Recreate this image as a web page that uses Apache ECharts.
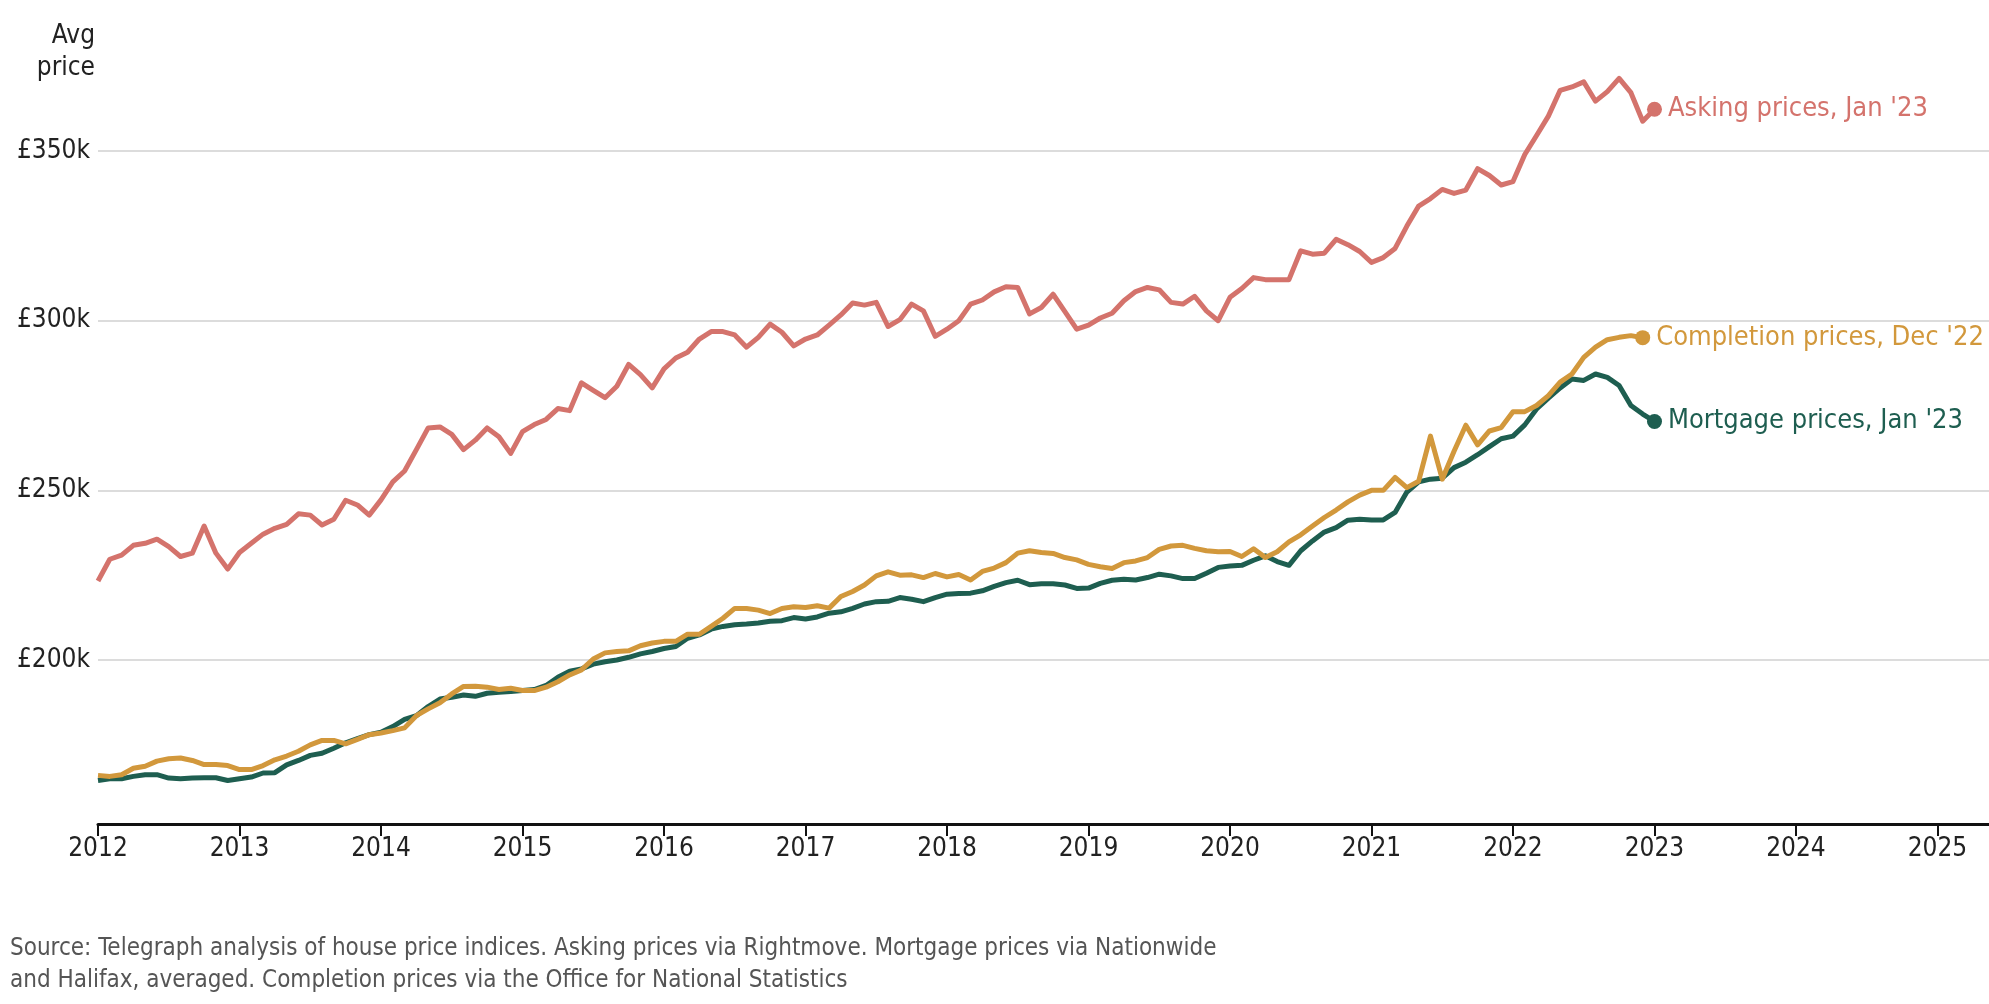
<!DOCTYPE html>
<html>
<head>
<meta charset="utf-8">
<script src="https://cdn.jsdelivr.net/npm/echarts@6/dist/echarts.min.js"></script>
<style>
html,body{margin:0;padding:0;background:#fff;}
#chart{width:1989px;height:1004px;}
</style>
</head>
<body>
<div id="chart"></div>
<script>
// Monthly series starting Jan 2012 (values in £k)
const startYear = 2012;
const asking = [
223.3,229.7,230.9,233.8,234.4,235.6,233.4,230.5,231.5,239.5,231.5,226.8,
231.7,234.4,237.1,238.8,240.0,243.1,242.7,239.8,241.5,247.1,245.7,242.7,
247.2,252.5,255.7,262.0,268.4,268.7,266.5,262.0,264.8,268.4,265.8,260.9,
267.3,269.4,270.9,274.1,273.5,281.7,279.5,277.3,280.7,287.1,284.1,280.2,
285.8,289.0,290.7,294.6,296.8,296.8,295.8,292.2,295.1,299.0,296.6,292.6,
294.6,295.8,298.7,301.7,305.2,304.6,305.4,298.3,300.3,304.9,302.9,295.4,
297.5,300.0,304.9,306.1,308.5,310.0,309.8,302.0,303.9,307.8,302.7,297.5,
298.7,300.8,302.2,305.9,308.6,309.8,309.1,305.4,304.9,307.2,302.9,300.0,
306.9,309.5,312.7,312.1,312.1,312.1,320.6,319.6,319.9,324.0,322.4,320.4,
317.2,318.6,321.3,327.9,333.8,336.0,338.7,337.5,338.5,344.8,342.8,340.0,
341.0,349.0,354.6,360.3,367.9,368.9,370.4,364.7,367.5,371.4,367.2,358.8,
362.3
];
const mortgage = [
164.5,165.0,165.0,165.7,166.2,166.2,165.2,165.0,165.2,165.3,165.3,164.5,
165.0,165.5,166.7,166.8,169.1,170.4,171.9,172.5,174.0,175.6,176.8,178.0,
178.7,180.4,182.5,183.6,186.3,188.5,189.0,189.7,189.3,190.2,190.5,190.7,
191.0,191.3,192.5,194.9,196.7,197.4,198.8,199.5,200.0,200.8,201.8,202.5,
203.4,204.0,206.4,207.4,209.1,209.9,210.4,210.6,210.9,211.4,211.6,212.5,
212.1,212.7,213.8,214.2,215.2,216.5,217.2,217.3,218.4,217.9,217.2,218.4,
219.4,219.6,219.7,220.4,221.7,222.8,223.5,222.2,222.5,222.5,222.1,221.1,
221.2,222.6,223.5,223.8,223.6,224.3,225.3,224.8,224.0,224.0,225.6,227.3,
227.7,227.9,229.4,230.7,229.0,227.9,232.2,235.1,237.7,239.0,241.2,241.5,
241.3,241.3,243.5,249.5,252.5,253.3,253.6,256.7,258.3,260.5,262.9,265.2,
266.0,269.3,274.0,277.2,280.2,282.8,282.4,284.3,283.3,280.9,275.0,272.5,
270.3
];
const completion = [
166.0,165.7,166.2,168.1,168.7,170.2,170.9,171.1,170.4,169.2,169.2,168.9,
167.7,167.7,168.9,170.6,171.7,173.1,175.0,176.3,176.3,175.3,176.6,178.0,
178.5,179.2,180.0,183.6,185.6,187.4,190.0,192.2,192.3,192.0,191.3,191.7,
191.0,191.0,192.0,193.6,195.6,197.1,200.3,202.1,202.5,202.7,204.2,205.0,
205.5,205.5,207.6,207.6,209.9,212.3,215.2,215.2,214.7,213.7,215.2,215.7,
215.5,216.0,215.3,218.7,220.2,222.1,224.8,226.0,225.0,225.1,224.3,225.5,
224.5,225.2,223.6,226.1,227.1,228.7,231.5,232.2,231.7,231.4,230.2,229.5,
228.2,227.5,227.0,228.7,229.2,230.2,232.6,233.6,233.8,232.9,232.2,231.9,
232.0,230.5,232.8,230.2,231.9,234.8,236.9,239.5,242.0,244.2,246.6,248.6,
250.0,250.0,253.8,250.8,252.7,266.0,253.3,261.5,269.2,263.4,267.5,268.5,
273.2,273.2,275.0,277.9,281.9,284.3,289.2,292.2,294.4,295.1,295.6,295.0
];
const seriesNames = ['Asking prices', 'Mortgage prices', 'Completion prices'];
const endLabels = ["Asking prices, Jan '23", "Mortgage prices, Jan '23", "Completion prices, Dec '22"];
const colors = ['#d4736c', '#1e5e50', '#d2983c'];
const yearTicks = [2012,2013,2014,2015,2016,2017,2018,2019,2020,2021,2022,2023,2024,2025];

const FONT = "'Liberation Sans Narrow','DejaVu Sans Condensed',sans-serif";

function toPairs(arr) {
  return arr.map((v, i) => [startYear + i / 12, v * 1000]);
}
const all = [asking, mortgage, completion];

const series = [];
all.forEach((arr, k) => {
  series.push({
    name: seriesNames[k],
    type: 'line',
    data: toPairs(arr),
    showSymbol: false,
    symbol: 'none',
    lineStyle: { color: colors[k], width: 5, join: 'round', opacity: 1 },
    z: k === 1 ? 3 : (k === 2 ? 4 : 2),
    animation: false
  });
});
all.forEach((arr, k) => {
  const pairs = toPairs(arr);
  series.push({
    type: 'scatter',
    data: [pairs[pairs.length - 1]],
    symbol: 'circle',
    symbolSize: 15,
    itemStyle: { color: colors[k], opacity: 1 },
    label: {
      show: true,
      position: 'right',
      distance: 6,
      formatter: endLabels[k],
      color: colors[k],
      opacity: 1,
      fontFamily: FONT,
      fontSize: 27
    },
    emphasis: { disabled: true },
    z: 6,
    animation: false
  });
});

const chart = echarts.init(document.getElementById('chart'), null, { renderer: 'canvas' });
chart.setOption({
  backgroundColor: '#fff',
  animation: false,
  grid: { left: 98, right: 0, top: 40, bottom: 180, containLabel: false },
  xAxis: {
    type: 'value',
    min: 2012,
    max: 2025.364,
    interval: 1,
    axisLine: { show: true, lineStyle: { color: '#111', width: 3 } },
    axisTick: { show: true, length: 12, lineStyle: { color: '#111', width: 2 }, customValues: yearTicks },
    axisLabel: {
      customValues: yearTicks,
      formatter: v => String(Math.round(v)),
      color: '#222', fontFamily: FONT, fontSize: 26, margin: 12
    },
    splitLine: { show: false }
  },
  yAxis: {
    type: 'value',
    min: 151670,
    max: 382730,
    axisLine: { show: false },
    axisTick: { show: false },
    axisLabel: {
      showMinLabel: false, showMaxLabel: false,
      formatter: v => (v % 50000 === 0 ? '£' + (v / 1000) + 'k' : ''),
      color: '#222', fontFamily: FONT, fontSize: 26, margin: 8
    },
    splitLine: { show: true, showMinLine: false, showMaxLine: false, lineStyle: { color: '#dcdcdc', width: 2 } }
  },
  graphic: [
    {
      type: 'text', x: 95, y: 20, silent: true,
      style: { text: 'Avg\nprice', align: 'right', verticalAlign: 'top', fill: '#222',
               font: '26px ' + FONT, lineHeight: 32 }
    },
    {
      type: 'text', x: 10, y: 933, silent: true,
      style: { text: 'Source: Telegraph analysis of house price indices. Asking prices via Rightmove. Mortgage prices via Nationwide\nand Halifax, averaged. Completion prices via the Office for National Statistics',
               align: 'left', verticalAlign: 'top', fill: '#555', font: '24px ' + FONT, lineHeight: 32 }
    }
  ],
  series: series
});
</script>
</body>
</html>
